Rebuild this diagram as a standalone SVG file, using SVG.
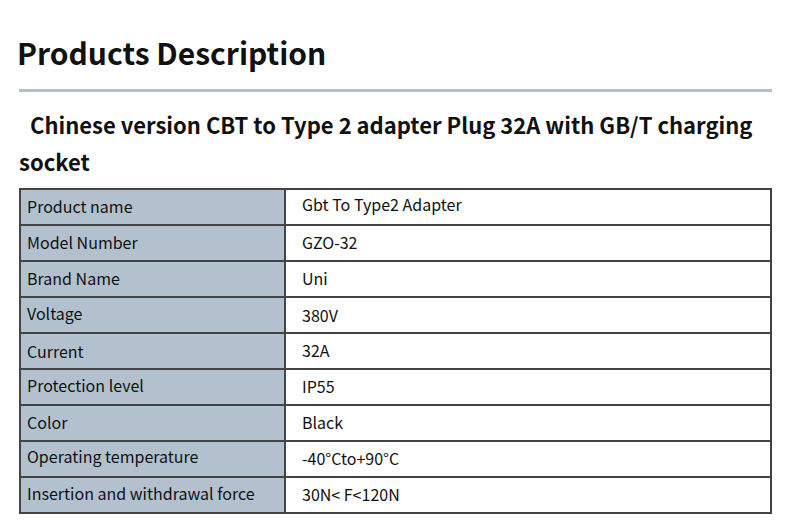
<svg xmlns="http://www.w3.org/2000/svg" width="790" height="522" viewBox="0 0 790 522">
<style>
text{font-family:"Noto Sans CJK SC","Noto Sans",sans-serif;fill:#111}
.h1{font-size:30px;font-weight:bold}
.h2{font-size:22px;font-weight:bold}
.c{font-size:16px}
.k{fill:#b3c1cf;stroke:#444;stroke-width:2}
.v{fill:#fff;stroke:#444;stroke-width:2}
</style>
<rect width="790" height="522" fill="#fff"/>
<text class="h1" x="17" y="65">Products Description</text>
<rect x="19" y="89" width="753" height="3" fill="#b4c0cc"/>
<text class="h2" x="30" y="134">Chinese version CBT to Type 2 adapter Plug 32A with GB/T charging</text>
<text class="h2" x="19" y="171">socket</text>
<g id="table">
<g id="r1"><rect class="k" x="20" y="189" width="265" height="36"/><rect class="v" x="285" y="189" width="486" height="36"/><text class="c" x="27" y="213">Product name</text><text class="c" x="302" y="211">Gbt To Type2 Adapter</text></g>
<g id="r2"><rect class="k" x="20" y="225" width="265" height="36"/><rect class="v" x="285" y="225" width="486" height="36"/><text class="c" x="27" y="249">Model Number</text><text class="c" x="302" y="249">GZO-32</text></g>
<g id="r3"><rect class="k" x="20" y="261" width="265" height="36"/><rect class="v" x="285" y="261" width="486" height="36"/><text class="c" x="27" y="285">Brand Name</text><text class="c" x="302" y="285">Uni</text></g>
<g id="r4"><rect class="k" x="20" y="297" width="265" height="36"/><rect class="v" x="285" y="297" width="486" height="36"/><text class="c" x="27" y="320">Voltage</text><text class="c" x="302" y="322">380V</text></g>
<g id="r5"><rect class="k" x="20" y="333" width="265" height="36"/><rect class="v" x="285" y="333" width="486" height="36"/><text class="c" x="27" y="358">Current</text><text class="c" x="302" y="357">32A</text></g>
<g id="r6"><rect class="k" x="20" y="369" width="265" height="36"/><rect class="v" x="285" y="369" width="486" height="36"/><text class="c" x="27" y="392">Protection level</text><text class="c" x="302" y="393">IP55</text></g>
<g id="r7"><rect class="k" x="20" y="405" width="265" height="36"/><rect class="v" x="285" y="405" width="486" height="36"/><text class="c" x="27" y="429">Color</text><text class="c" x="302" y="429">Black</text></g>
<g id="r8"><rect class="k" x="20" y="441" width="265" height="36"/><rect class="v" x="285" y="441" width="486" height="36"/><text class="c" x="27" y="463">Operating temperature</text><text class="c" x="302" y="465">-40°Cto+90°C</text></g>
<g id="r9"><rect class="k" x="20" y="477" width="265" height="36"/><rect class="v" x="285" y="477" width="486" height="36"/><text class="c" x="27" y="500">Insertion and withdrawal force</text><text class="c" x="302" y="501">30N&lt; F&lt;120N</text></g>
</g>
</svg>
